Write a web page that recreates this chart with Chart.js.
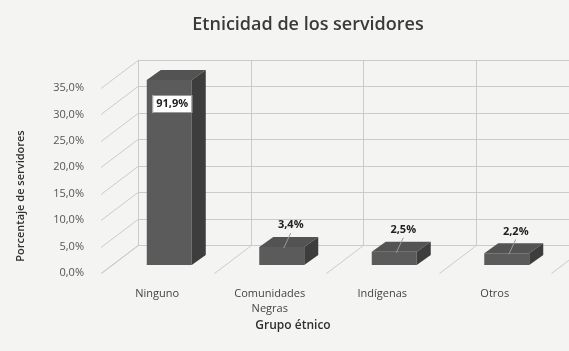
<!DOCTYPE html>
<html>
<head>
<meta charset="utf-8">
<script src="https://cdn.jsdelivr.net/npm/chart.js@4/dist/chart.umd.min.js"></script>
<style>
  html, body { margin: 0; padding: 0; background: #f4f4f2; }
  #wrap { width: 569px; height: 351px; }
</style>
</head>
<body>
<div id="wrap"><canvas id="grafico"></canvas></div>
<script>
// datos
const categorias = [['Ninguno'], ['Comunidades', 'Negras'], ['Indígenas'], ['Otros']];
const porcentajes = [91.9, 3.4, 2.5, 2.2];
const ejeMax = 35;
const ejePaso = 5;

const titulo = 'Etnicidad de los servidores';
const tituloX = 'Grupo étnico';
const tituloY = 'Porcentaje de servidores';

// efecto 3D
const W = {x: 37, y: -28};  // fondo del muro
const B = {x: 12, y: -8};   // barras hacia dentro
const D = {x: 14, y: -10};  // profundidad de la barra

const fmt = v => v.toFixed(1).replace('.', ',') + '%';

const efecto3d = {
  id: 'efecto3d',
  beforeDatasetsDraw(chart) {
    const {ctx, chartArea: a, scales: {x, y}} = chart;
    ctx.save();
    ctx.strokeStyle = '#cbcbcb';
    ctx.lineWidth = 1;
    ctx.beginPath();
    y.ticks.forEach(t => {
      const py = Math.round(y.getPixelForValue(t.value)) + 0.5;
      ctx.moveTo(a.left, py);
      ctx.lineTo(a.left + W.x, py + W.y);
      ctx.lineTo(a.right + W.x, py + W.y);
    });
    const paso = x.getPixelForValue(1) - x.getPixelForValue(0);
    const x0 = x.getPixelForValue(0) - paso / 2;
    const yb = Math.round(a.bottom) + 0.5;
    for (let i = 0; i <= categorias.length; i++) {
      const px = Math.round(x0 + i * paso) + 0.5;
      ctx.moveTo(px, yb);
      ctx.lineTo(px + W.x, yb + W.y);
      ctx.lineTo(px + W.x, a.top + W.y);
    }
    ctx.stroke();
    ctx.restore();
    ctx.save();
    ctx.translate(B.x, B.y);
  },
  afterDatasetsDraw(chart) {
    const {ctx, chartArea: a} = chart;
    ctx.restore();
    const meta = chart.getDatasetMeta(0);
    meta.data.forEach((bar, i) => {
      const p = bar.getProps(['x', 'y', 'base', 'width'], true);
      const x1 = p.x - p.width / 2 + B.x;
      const x2 = p.x + p.width / 2 + B.x;
      const t = Math.max(p.y, a.top) + B.y;
      const b = p.base + B.y;
      ctx.save();
      ctx.fillStyle = '#535353';
      ctx.beginPath();
      ctx.moveTo(x1, t); ctx.lineTo(x2, t);
      ctx.lineTo(x2 + D.x, t + D.y); ctx.lineTo(x1 + D.x, t + D.y);
      ctx.closePath(); ctx.fill();
      ctx.fillStyle = '#3d3d3d';
      ctx.beginPath();
      ctx.moveTo(x2, t); ctx.lineTo(x2 + D.x, t + D.y);
      ctx.lineTo(x2 + D.x, b + D.y); ctx.lineTo(x2, b);
      ctx.closePath(); ctx.fill();

      ctx.font = 'bold 11px "Open Sans"';
      ctx.textAlign = 'center';
      ctx.textBaseline = 'middle';
      const txt = fmt(porcentajes[i]);
      if (porcentajes[i] > ejeMax) {
        const cx = p.x + B.x + 3, cy = t + 24;
        const w = ctx.measureText(txt).width + 8;
        ctx.fillStyle = '#ffffff';
        ctx.fillRect(cx - w / 2, cy - 9, w, 18);
        ctx.strokeStyle = '#9a9a9a';
        ctx.strokeRect(cx - w / 2 + 0.5, cy - 8.5, w - 1, 17);
        ctx.fillStyle = '#222222';
        ctx.fillText(txt, cx, cy);
      } else {
        const cx = p.x + B.x + 9, cy = t + D.y - 12;
        ctx.strokeStyle = '#9a9a9a';
        ctx.beginPath();
        ctx.moveTo(cx, cy + 8);
        ctx.lineTo(p.x + B.x + 2, t + 1);
        ctx.stroke();
        ctx.fillStyle = '#222222';
        ctx.fillText(txt, cx, cy);
      }
      ctx.restore();
    });
  },
  afterDraw(chart) {
    const {ctx} = chart;
    ctx.save();
    ctx.textAlign = 'center';
    ctx.textBaseline = 'middle';
    ctx.fillStyle = '#3a3a3a';
    ctx.font = '600 18px "Open Sans"';
    ctx.fillText(titulo, 308, 25);
    ctx.fillStyle = '#2e2e2e';
    ctx.font = '600 12px "Open Sans"';
    ctx.fillText(tituloX, 293, 326);
    ctx.font = '600 11px "Open Sans"';
    ctx.translate(21, 196);
    ctx.rotate(-Math.PI / 2);
    ctx.fillText(tituloY, 0, 0);
    ctx.restore();
  }
};

new Chart(document.getElementById('grafico'), {
  type: 'bar',
  data: {
    labels: categorias,
    datasets: [{
      data: porcentajes,
      backgroundColor: '#5b5b5b',
      barPercentage: 0.4,
      categoryPercentage: 1.0,
    }],
  },
  options: {
    responsive: true,
    maintainAspectRatio: false,
    animation: false,
    layout: {
      padding: {top: 88, right: 18, bottom: 0, left: 0},
    },
    plugins: {
      legend: {display: false},
      tooltip: {enabled: false},
      title: {display: false},
    },
    scales: {
      x: {
        grid: {display: false},
        border: {display: false},
        ticks: {
          color: '#444444',
          padding: 6,
          maxRotation: 0,
          autoSkip: false,
          font: {size: 11, family: 'Open Sans', lineHeight: 1.3},
        },
        afterFit: s => { s.height = 78; },
      },
      y: {
        min: 0,
        max: ejeMax,
        grid: {display: false},
        border: {display: false},
        ticks: {
          stepSize: ejePaso,
          color: '#555555',
          padding: 9,
          font: {size: 11, family: 'Open Sans'},
          callback: v => fmt(v),
        },
        afterFit: s => { s.width = 101; },
      },
    },
  },
  plugins: [efecto3d],
});
</script>
</body>
</html>
